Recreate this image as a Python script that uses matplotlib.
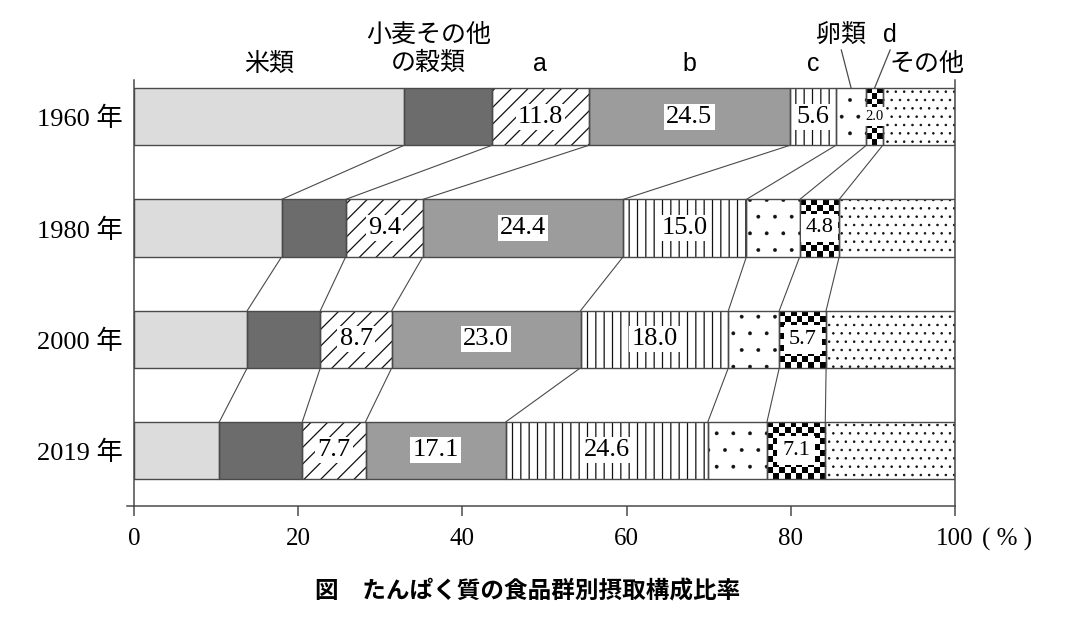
import matplotlib
matplotlib.use('Agg')
import matplotlib.pyplot as plt
import numpy as np

# data (% of protein intake by food group)
years = ['1960 年', '1980 年', '2000 年', '2019 年']
groups = ['米類', '小麦その他\nの穀類', 'a', 'b', 'c', '卵類', 'd', 'その他']
rice = [32.9, 18.0, 13.8, 10.4]
wheat = [10.7, 7.8, 8.9, 10.1]
grp_a = [11.8, 9.4, 8.7, 7.7]
grp_b = [24.5, 24.4, 23.0, 17.1]
grp_c = [5.6, 15.0, 18.0, 24.6]
eggs = [3.7, 6.5, 6.2, 7.2]
grp_d = [2.0, 4.8, 5.7, 7.1]
other = [8.8, 14.1, 15.7, 15.8]
xticks = [0, 20, 40, 60, 80, 100]

series = [rice, wheat, grp_a, grp_b, grp_c, eggs, grp_d, other]
labelled = [False, False, True, True, True, False, True, False]
fills = ['#dcdcdc', '#6c6c6c', 'white', '#9c9c9c', 'white', 'white', 'white', 'white']
hatches = [None, None, '//', None, '||', '.', None, '..']
dot_lw = {'.': 0.3, '..': 0.6}

plt.rcParams['font.family'] = ['Liberation Serif', 'Noto Sans CJK JP']
plt.rcParams['hatch.linewidth'] = 0.9
edge = '#4a4a4a'
cjk = ['Noto Sans CJK JP', 'DejaVu Sans']

fig = plt.figure(figsize=(10.76, 6.4), dpi=100)
ax = fig.add_axes([134 / 1076, 1 - 506 / 640, (955 - 134) / 1076, (506 - 80) / 640])

y = np.arange(len(years))
h = 0.514
data = np.array(series)
lefts = np.vstack([np.zeros(len(years)), np.cumsum(data, axis=0)[:-1]])

containers = []
for k, vals in enumerate(series):
    bars = ax.barh(y, vals, left=lefts[k], height=h, color=fills[k],
                   hatch=hatches[k], edgecolor='#111111', linewidth=0, zorder=2)
    if hatches[k] in dot_lw:
        for bar in bars:
            if hasattr(bar, 'set_hatch_linewidth'):
                bar.set_hatch_linewidth(dot_lw[hatches[k]])
    containers.append(bars)

# checker pattern for d
for bar in containers[6]:
    x0, y0 = bar.get_x(), bar.get_y()
    w, hh = bar.get_width(), bar.get_height()
    nx = max(2, int(round(w / 0.68)))
    ny = int(round(hh / 0.05))
    board = np.indices((ny, nx)).sum(axis=0) % 2
    im = ax.imshow(board, cmap='gray', extent=(x0, x0 + w, y0 + hh, y0),
                   aspect='auto', interpolation='nearest', zorder=2.5)
    im.set_clip_path(bar)

# outlines on top
for k, vals in enumerate(series):
    ax.barh(y, vals, left=lefts[k], height=h, fill=False,
            edgecolor=edge, linewidth=1.0, zorder=3)

# connecting lines between years
bounds = np.cumsum(data, axis=0)[:-1]
for i in range(len(years) - 1):
    for b in range(bounds.shape[0]):
        ax.plot([bounds[b, i], bounds[b, i + 1]], [y[i] + h / 2, y[i + 1] - h / 2],
                color=edge, linewidth=0.8, zorder=1)

# value labels
for k, bars in enumerate(containers):
    if not labelled[k]:
        continue
    for bar, v in zip(bars, series[k]):
        cx = bar.get_x() + bar.get_width() / 2
        fs, pad = 19, 1.5
        if k == 6:
            fs, pad = (16, 3.5) if v > 3 else (10.5, 2.0)
        ax.text(cx, bar.get_y() + bar.get_height() / 2, f'{v:.1f}',
                ha='center', va='center', fontsize=fs, zorder=5,
                bbox=dict(facecolor='white', edgecolor='none', pad=pad))

# group labels above the 1960 bar
top = y[0] - h / 2
centers = lefts[:, 0] + data[:, 0] / 2
label_y = [-0.47, -0.61, -0.47, -0.47, -0.47, -0.735, -0.735, -0.47]
label_dx = [0, -2.4, 0, 0, 0, -1.2, 1.9, 1.0]
for k, name in enumerate(groups):
    fam = ['Liberation Sans'] if name in ('a', 'b', 'c', 'd') else cjk
    ax.text(centers[k] + label_dx[k], label_y[k], name, ha='center', va='center',
            fontsize=18, family=fam, linespacing=1.1, clip_on=False)
# leader lines for 卵類 and d
for k in (5, 6):
    ax.plot([centers[k], centers[k] + label_dx[k]], [top, -0.6],
            color=edge, linewidth=0.9, clip_on=False)

ax.set_xlim(0, 100)
ax.set_ylim(3.5, -0.33)
ax.set_xticks(xticks)
ax.set_xticklabels([str(t) for t in xticks], fontsize=18)
ax.set_yticks(y)
ax.set_yticklabels(years, fontsize=19)
ax.tick_params(axis='y', length=0, pad=8)
ax.tick_params(axis='x', length=7, width=1.1, color=edge, pad=9, direction='out')
for s in ('left', 'right', 'bottom'):
    ax.spines[s].set_color(edge)
    ax.spines[s].set_linewidth(1.1)
ax.spines['top'].set_visible(False)
ax.plot([-0.9, 0], [3.5, 3.5], color=edge, linewidth=1.1, clip_on=False)
ax.text(103.3, -0.078, '( % )', transform=ax.get_xaxis_transform(),
        ha='left', va='center', fontsize=18)

fig.text(0.49, 0.075, '図　たんぱく質の食品群別摂取構成比率', ha='center', va='center',
         fontsize=17, fontweight='bold', family=cjk)

fig.savefig('out.png', dpi=100)
